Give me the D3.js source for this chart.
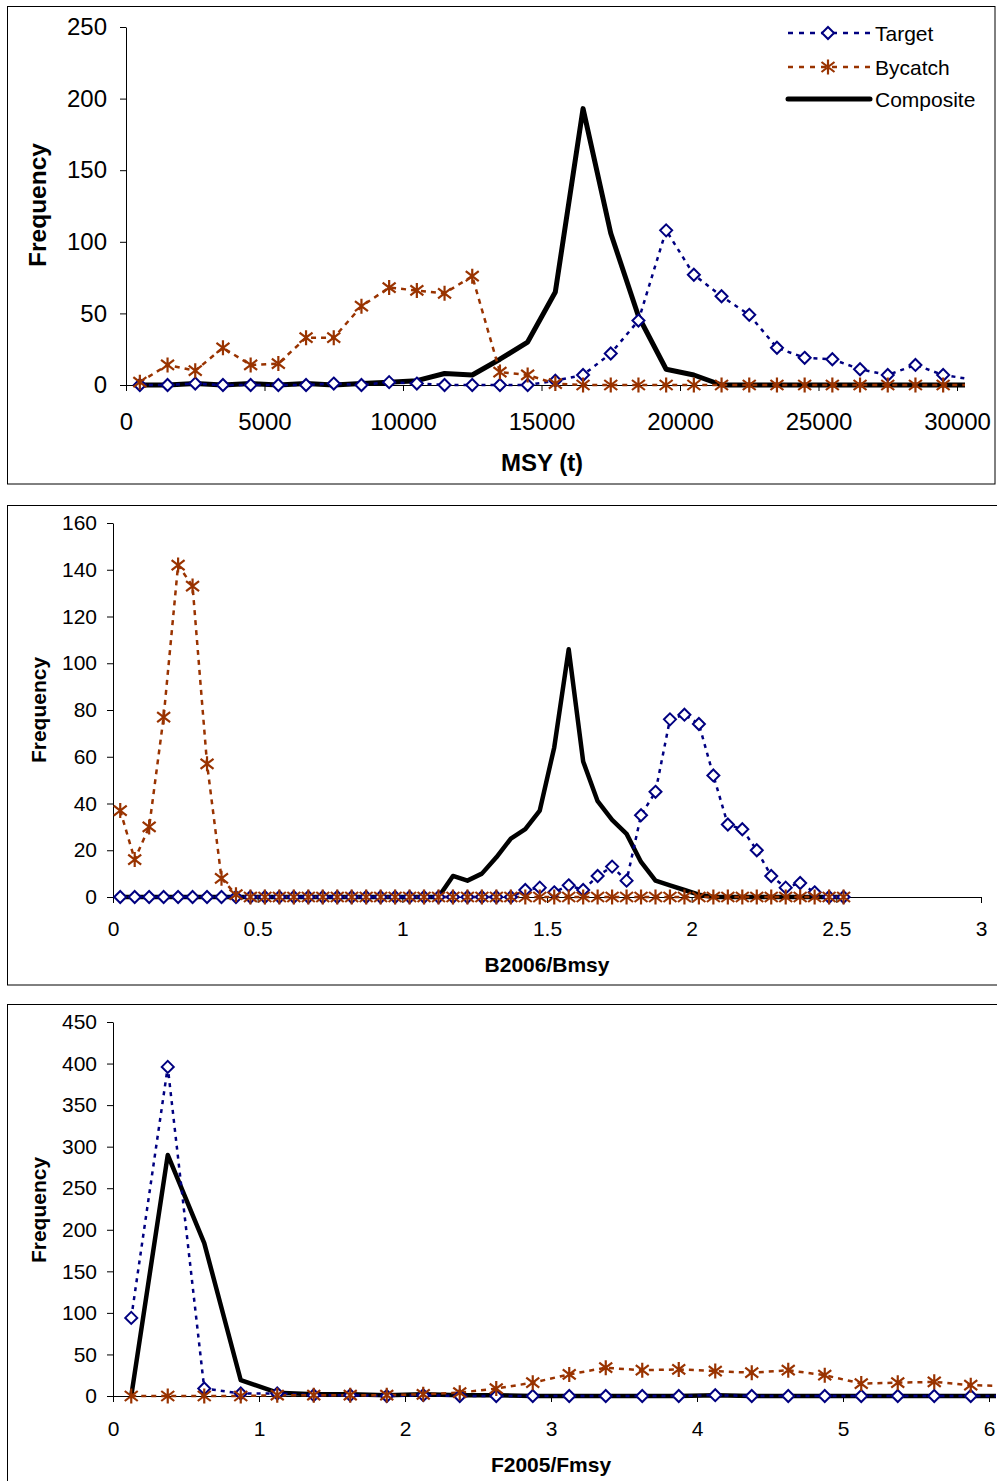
<!DOCTYPE html>
<html>
<head>
<meta charset="utf-8">
<script src="https://cdn.jsdelivr.net/npm/d3@7"></script>
<style>
  body { margin: 0; background: #fff; }
  text { font-family: "Liberation Sans", Arial, sans-serif; fill: #000; }
</style>
</head>
<body>
<script>
// ---- data: panel 1, MSY (t) bins of 1000 t (last bin sits beyond the plot edge)
var msyX = [500,1500,2500,3500,4500,5500,6500,7500,8500,9500,10500,11500,12500,13500,14500,
            15500,16500,17500,18500,19500,20500,21500,22500,23500,24500,25500,26500,27500,28500,29500,30500];
var msyTarget    = [0,0,1,0,0,0,0,1,0,2,1,0,0,0,0,3,7,22,45,108,77,62,49,26,19,18,11,7,14,7,4];
var msyBycatch   = [2,14,10,26,14,15,33,33,55,68,66,64,76,9,7,1,0,0,0,0,0,0,0,0,0,0,0,0,0,0,0];
var msyComposite = [0,0,1,0,1,0,1,0,1,2,3,8,7,18,30,65,193,106,48,11,7,0,0,0,0,0,0,0,0,0,0];

// ---- panel 2, B2006/Bmsy bins of 0.05
var bX = [0.025,0.075,0.125,0.175,0.225,0.275,0.325,0.375,0.425,0.475,0.525,0.575,0.625,0.675,0.725,
          0.775,0.825,0.875,0.925,0.975,1.025,1.075,1.125,1.175,1.225,1.275,1.325,1.375,1.425,1.475,
          1.525,1.575,1.625,1.675,1.725,1.775,1.825,1.875,1.925,1.975,2.025,2.075,2.125,2.175,2.225,
          2.275,2.325,2.375,2.425,2.475,2.525];
var bTarget    = [0,0,0,0,0,0,0,0,0,0,0,0,0,0,0,0,0,0,0,0,0,0,0,0,0,0,0,0,
                  3,4,2,5,3,9,13,7,35,45,76,78,74,52,31,29,20,9,4,6,2,0,0];
var bBycatch   = [37,16,30,77,142,133,57,8,1,0,0,0,0,0,0,0,0,0,0,0,0,0,0,0,0,0,0,0,0,0,
                  0,0,0,0,0,0,0,0,0,0,0,0,0,0,0,0,0,0,0,0,0];
var bComposite = [0,0,0,0,0,0,0,0,0,0,0,0,0,0,0,0,0,0,0,0,0,0,0,
                  9,7,10,17,25,29,37,64,106,58,41,33,27,15,7,5,3,1,
                  0,0,0,0,0,0,0,0,0,0];

// ---- panel 3, F2005/Fmsy bins of 0.25
var fX = [0.125,0.375,0.625,0.875,1.125,1.375,1.625,1.875,2.125,2.375,2.625,2.875,3.125,3.375,3.625,
          3.875,4.125,4.375,4.625,4.875,5.125,5.375,5.625,5.875,6.125];
var fTarget    = [94,396,9,3,3,1,1,0,1,0,0,0,0,0,0,0,1,0,0,0,0,0,0,0,0];
var fBycatch   = [0,0,0,0,1,1,1,1,2,4,9,16,26,34,31,32,30,28,31,25,15,16,17,13,12];
var fComposite = [0,290,184,19,4,2,2,1,2,1,1,0,0,0,0,0,1,0,0,0,0,0,0,0,0];

var seriesNames = ['Target', 'Bycatch', 'Composite'];

// ---- styles
var NAVY = '#000080', RUST = '#993300';
var diamondPath = 'M0,-6L6,0L0,6L-6,0Z';
var starPath = 'M0,-7.5V7.5M-6.5,-5L6.5,5M-6.5,5L6.5,-5';

var svg = d3.select('body').append('svg')
  .attr('width', 997).attr('height', 1481);

var panels = [
  { id: 'p1', box: [7.5, 6.5, 987.5, 477.5], xr: [126, 957], clipRight: 965, yr: [385, 27],
    xd: [0, 30000], yd: [0, 250], xt: d3.range(0, 30001, 5000), yt: d3.range(0, 251, 50),
    font: 24, xPad: 21.6, yPad: 13, title: 'MSY (t)', titleXY: [542, 471], freqXY: [46, 205],
    x: msyX, s: [msyTarget, msyBycatch, msyComposite], legend: true, comp: 5 },
  { id: 'p2', box: [7.5, 505.5, 1000, 479.5], xr: [113, 981], clipRight: 990, yr: [897, 523],
    xd: [0, 3], yd: [0, 160], xt: d3.range(0, 3.01, 0.5), yt: d3.range(0, 161, 20),
    font: 21, xPad: 17.6, yPad: 10, title: 'B2006/Bmsy', titleXY: [547, 972], freqXY: [45.5, 710],
    x: bX, s: [bTarget, bBycatch, bComposite], comp: 4.5 },
  { id: 'p3', box: [7.5, 1004.5, 1000, 500], xr: [113, 989], clipRight: 996, yr: [1396, 1022],
    xd: [0, 6], yd: [0, 450], xt: d3.range(0, 7, 1), yt: d3.range(0, 451, 50),
    font: 21, xPad: 18.6, yPad: 10, title: 'F2005/Fmsy', titleXY: [551, 1472], freqXY: [45.5, 1210],
    x: fX, s: [fTarget, fBycatch, fComposite], comp: 4.5 }
];

panels.forEach(function (p) {
  var g = svg.append('g').attr('class', p.id);

  // panel frame
  g.append('rect')
    .attr('x', p.box[0]).attr('y', p.box[1])
    .attr('width', p.box[2]).attr('height', p.box[3])
    .attr('fill', 'none').attr('stroke', '#000').attr('stroke-width', 1);

  var x = d3.scaleLinear().domain(p.xd).range(p.xr);
  var y = d3.scaleLinear().domain(p.yd).range(p.yr);

  // axes
  var fmt = function (d) { return String(+d.toFixed(2)); };
  var xAxis = g.append('g')
    .attr('transform', 'translate(0,' + p.yr[0] + ')')
    .call(d3.axisBottom(x).tickValues(p.xt).tickFormat(fmt)
      .tickSize(6).tickSizeOuter(0).tickPadding(p.xPad));
  var yAxis = g.append('g')
    .attr('transform', 'translate(' + p.xr[0] + ',0)')
    .call(d3.axisLeft(y).tickValues(p.yt).tickFormat(fmt)
      .tickSize(6).tickSizeOuter(0).tickPadding(p.yPad));
  [xAxis, yAxis].forEach(function (a) {
    a.selectAll('text').style('font-size', p.font + 'px')
      .style('font-family', '"Liberation Sans", Arial, sans-serif').attr('fill', '#000');
    a.selectAll('line').attr('stroke', '#000');
    a.select('.domain').attr('stroke', '#000');
  });

  // axis titles
  g.append('text')
    .attr('x', p.titleXY[0]).attr('y', p.titleXY[1])
    .attr('text-anchor', 'middle')
    .style('font-size', p.font + 'px').style('font-weight', 'bold')
    .text(p.title);
  g.append('text')
    .attr('transform', 'translate(' + p.freqXY[0] + ',' + p.freqXY[1] + ') rotate(-90)')
    .attr('text-anchor', 'middle')
    .style('font-size', (p.id === 'p1' ? 24.5 : 21) + 'px').style('font-weight', 'bold')
    .text('Frequency');

  // plot-area clip for the lines
  var clipId = 'clip-' + p.id;
  svg.append('clipPath').attr('id', clipId).append('rect')
    .attr('x', p.xr[0]).attr('y', p.box[1])
    .attr('width', p.clipRight - p.xr[0]).attr('height', p.box[3]);

  var line = d3.line()
    .x(function (d) { return x(d[0]); })
    .y(function (d) { return y(d[1]); });

  function pts(vals) {
    return p.x.map(function (v, i) { return [v, vals[i]]; });
  }
  function inside(d) { return x(d[0]) <= p.clipRight; }

  var lines = g.append('g').attr('clip-path', 'url(#' + clipId + ')');

  // composite first, then target, bycatch on top
  lines.append('path').datum(pts(p.s[2]))
    .attr('d', line).attr('fill', 'none')
    .attr('stroke', '#000').attr('stroke-width', p.comp).attr('stroke-linejoin', 'round');

  lines.append('path').datum(pts(p.s[0]))
    .attr('d', line).attr('fill', 'none')
    .attr('stroke', NAVY).attr('stroke-width', 2.5).attr('stroke-dasharray', '4,5');
  g.append('g').selectAll('path').data(pts(p.s[0]).filter(inside)).join('path')
    .attr('transform', function (d) { return 'translate(' + x(d[0]) + ',' + y(d[1]) + ')'; })
    .attr('d', diamondPath).attr('fill', '#fff')
    .attr('stroke', NAVY).attr('stroke-width', 2);

  lines.append('path').datum(pts(p.s[1]))
    .attr('d', line).attr('fill', 'none')
    .attr('stroke', RUST).attr('stroke-width', 2.5).attr('stroke-dasharray', '5,5');
  g.append('g').selectAll('path').data(pts(p.s[1]).filter(inside)).join('path')
    .attr('transform', function (d) { return 'translate(' + x(d[0]) + ',' + y(d[1]) + ')'; })
    .attr('d', starPath).attr('fill', 'none')
    .attr('stroke', RUST).attr('stroke-width', 2.2);

  // legend (top panel only)
  if (p.legend) {
    var lg = g.append('g').attr('class', 'legend');
    var rows = [33, 67, 99];
    seriesNames.forEach(function (name, i) {
      var ly = rows[i];
      var ln = lg.append('line').attr('x1', 788).attr('x2', 870).attr('y1', ly).attr('y2', ly);
      if (i === 0) {
        ln.attr('stroke', NAVY).attr('stroke-width', 2.5).attr('stroke-dasharray', '5,6');
        lg.append('path').attr('transform', 'translate(828,' + ly + ')')
          .attr('d', diamondPath).attr('fill', '#fff').attr('stroke', NAVY).attr('stroke-width', 2);
      } else if (i === 1) {
        ln.attr('stroke', RUST).attr('stroke-width', 2.5).attr('stroke-dasharray', '5,6');
        lg.append('path').attr('transform', 'translate(828,' + ly + ')')
          .attr('d', starPath).attr('fill', 'none').attr('stroke', RUST).attr('stroke-width', 2.2);
      } else {
        ln.attr('stroke', '#000').attr('stroke-width', 5).attr('stroke-linecap', 'round');
      }
      lg.append('text').attr('x', 875).attr('y', ly + 7.5)
        .style('font-size', '21px').text(name);
    });
  }
});
</script>
</body>
</html>
